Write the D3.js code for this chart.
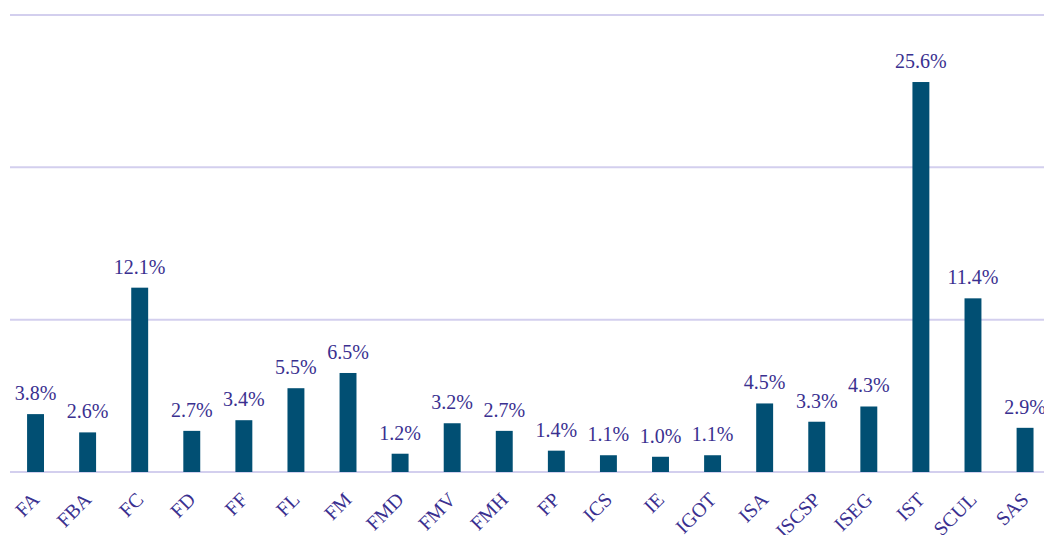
<!DOCTYPE html>
<html>
<head>
<meta charset="utf-8">
<script src="https://cdn.jsdelivr.net/npm/d3@7"></script>
<style>
  body { margin: 0; background: #fff; }
  svg text { font-family: "Liberation Serif", "Times New Roman", serif; fill: #3a3090; }
</style>
</head>
<body>
<div id="chart"></div>
<script>
// schools and their share (%)
const schools = ["FA","FBA","FC","FD","FF","FL","FM","FMD","FMV","FMH","FP","ICS","IE","IGOT","ISA","ISCSP","ISEG","IST","SCUL","SAS"];
const shares = [3.8, 2.6, 12.1, 2.7, 3.4, 5.5, 6.5, 1.2, 3.2, 2.7, 1.4, 1.1, 1.0, 1.1, 4.5, 3.3, 4.3, 25.6, 11.4, 2.9];
const gridTicks = [0, 10, 20, 30];

const width = 1044, height = 535;

const svg = d3.select("#chart")
  .append("svg")
  .attr("width", width)
  .attr("height", height);

const x = d3.scaleBand()
  .domain(schools)
  .range([9.5, 9.5 + 52.08 * schools.length])
  .paddingInner(0.675)
  .paddingOuter(0.3375);

const y = d3.scaleLinear()
  .domain([0, 30])
  .range([472, 15]);

// gridlines
svg.append("g")
  .selectAll("line")
  .data(gridTicks)
  .enter()
  .append("line")
  .attr("x1", 10)
  .attr("x2", width)
  .attr("y1", d => y(d))
  .attr("y2", d => y(d))
  .style("stroke", "#d3cfee")
  .style("stroke-width", 2);

const data = schools.map((s, i) => ({ name: s, value: shares[i] }));

// bars
svg.append("g")
  .selectAll("rect")
  .data(data)
  .enter()
  .append("rect")
  .attr("x", d => x(d.name))
  .attr("width", x.bandwidth())
  .attr("y", d => y(d.value))
  .attr("height", d => y(0) - y(d.value))
  .style("fill", "#014f73");

// value labels
svg.append("g")
  .selectAll("text")
  .data(data)
  .enter()
  .append("text")
  .attr("x", d => x(d.name) + x.bandwidth() / 2)
  .attr("y", d => y(d.value) - 14)
  .attr("text-anchor", "middle")
  .style("font-size", "20px")
  .text(d => d.value.toFixed(1) + "%");

// category labels, rotated
svg.append("g")
  .selectAll("text")
  .data(data)
  .enter()
  .append("text")
  .attr("transform", d => "translate(" + (x(d.name) + x.bandwidth() / 2 - 5) + ",491) rotate(-45)")
  .attr("text-anchor", "end")
  .attr("dy", "0.7em")
  .style("font-size", "20px")
  .text(d => d.name);
</script>
</body>
</html>
